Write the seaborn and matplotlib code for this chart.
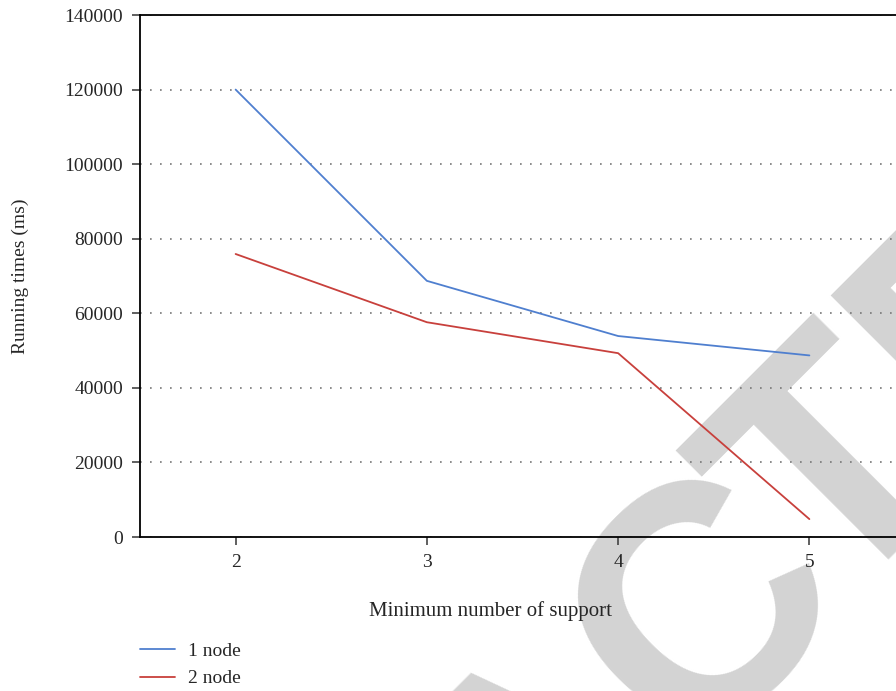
import numpy as np
import pandas as pd
import matplotlib
matplotlib.use('Agg')
import matplotlib.pyplot as plt
import seaborn as sns

# values
min_support = [2, 3, 4, 5]
one_node = [120000, 68700, 53900, 48700]
two_node = [75900, 57600, 49300, 4800]
series_names = ['1 node', '2 node']
y_ticks = [0, 20000, 40000, 60000, 80000, 100000, 120000, 140000]

df = pd.DataFrame({
    'support': min_support * 2,
    'time': one_node + two_node,
    'series': [series_names[0]] * 4 + [series_names[1]] * 4,
})

sns.set_style('white')
plt.rcParams['font.family'] = ['Liberation Serif', 'DejaVu Serif']

W, H = 896, 691
WM_FONT = dict(family='Liberation Sans', weight='bold')


def ink_extent(s, ha, size):
    """Ink box of a text relative to its anchor, in pixels (y up)."""
    f = plt.figure(figsize=(16, 8), dpi=100)
    f.text(0.5, 0.5, s, ha=ha, va='baseline', fontsize=size, color='black', **WM_FONT)
    f.canvas.draw()
    img = np.asarray(f.canvas.buffer_rgba())[:, :, 0]
    plt.close(f)
    rows, cols = np.nonzero(img < 128)
    return cols.min() - 800, cols.max() + 1 - 800, 400 - (rows.max() + 1), 400 - rows.min()


# size the watermark so the cap height is ~231 px
l, r, b, t = ink_extent('T', 'left', 100)
wm_size = 100 * 231 / (t - b)

fig = plt.figure(figsize=(W / 100, H / 100), dpi=100)
ax = fig.add_axes([140 / W, 1 - 537 / H, 765 / W, 522 / H])
ax.patch.set_visible(False)

# watermark pieces: (text, ha, target ink edge along baseline, target ink bottom)
# letter frame: s along the 45 degree baseline, h perpendicular to it
pieces = [('RETRA', 'right', -53, 0), ('C', 'left', -37, -4), ('TED', 'left', 161, 0)]
c = np.sqrt(0.5)
for txt, ha, s_t, h_t in pieces:
    l, r, b, t = ink_extent(txt, ha, wm_size)
    s_a = s_t - (r if ha == 'right' else l)
    h_a = h_t - b
    x = 722.5 + c * s_a - c * h_a
    y = 722.5 - c * s_a - c * h_a
    fig.text(x / W, 1 - y / H, txt, ha=ha, va='baseline', rotation=45,
             rotation_mode='anchor', fontsize=wm_size, color='#d3d3d3',
             zorder=-5, **WM_FONT)

palette = {'1 node': '#4f7fcf', '2 node': '#c8403c'}
sns.lineplot(data=df, x='support', y='time', hue='series', palette=palette,
             linewidth=1.3, ax=ax, legend=True)

ax.set_xlim(1.5, 5.5)
ax.set_ylim(0, 140000)
ax.set_xticks(min_support)
ax.set_yticks(y_ticks)
ax.tick_params(axis='both', direction='out', length=6, width=1.2, color='#444444',
               labelsize=14, pad=6, left=True, bottom=True)
ax.yaxis.grid(True, linestyle=(0, (1, 5)), color='#777777', linewidth=1.2)
ax.set_axisbelow(True)

for side in ['left', 'top', 'bottom']:
    ax.spines[side].set_visible(True)
    ax.spines[side].set_color('black')
    ax.spines[side].set_linewidth(1.3)
ax.spines['right'].set_visible(False)

ax.set_xlabel('Minimum number of support', fontsize=15)
ax.xaxis.set_label_coords((490 - 140) / 765, -0.123)
ax.set_ylabel('Running times (ms)', fontsize=14)
ax.yaxis.set_label_coords(-0.145, 0.5)

leg = ax.legend(loc='upper left', bbox_to_anchor=(140 / W, 1 - 642 / H),
                bbox_transform=fig.transFigure, frameon=False, fontsize=14,
                handlelength=1.8, labelspacing=0.52, handletextpad=0.67,
                borderpad=0, borderaxespad=0)

fig.savefig('out.png', dpi=100)
